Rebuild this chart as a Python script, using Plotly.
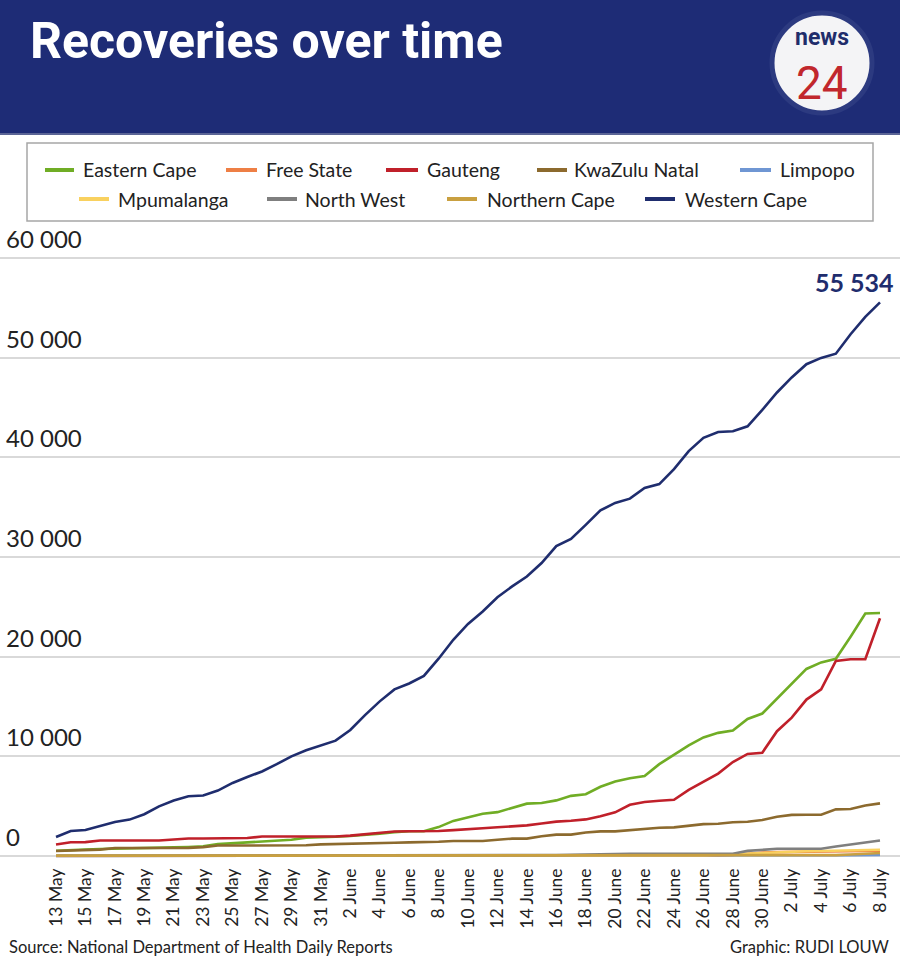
import plotly.graph_objects as go
import pandas as pd

# ---------------- data ----------------
dates = pd.date_range("2020-05-13", "2020-07-08", freq="D")

eastern_cape = [520, 620, 650, 700, 720, 750, 780, 790, 860, 900, 970, 1190, 1270, 1340, 1450, 1550, 1630,
                1840, 1870, 1930, 2010, 2100, 2240, 2390, 2480, 2480, 2900, 3520, 3870, 4240, 4400, 4830,
                5250, 5310, 5580, 6030, 6190, 6940, 7470, 7800, 8030, 9210, 10180, 11090, 11890, 12350,
                12590, 13750, 14290, 15760, 17220, 18760, 19420, 19780, 22000, 24330, 24370]
free_state = [10] * 16 + [20] * 15 + [40] * 14 + [60, 100, 230, 350, 390, 420, 440, 450, 460, 480, 500, 520]
gauteng = [1150, 1380, 1390, 1550, 1550, 1550, 1550, 1560, 1660, 1750, 1750, 1750, 1750, 1800, 1950, 1950,
           1950, 1950, 1950, 1960, 2040, 2190, 2320, 2450, 2480, 2480, 2510, 2600, 2720, 2790, 2880, 2960,
           3070, 3260, 3450, 3530, 3670, 3980, 4380, 5140, 5410, 5540, 5640, 6630, 7410, 8270, 9420,
           10240, 10360, 12520, 13880, 15690, 16710, 19570, 19730, 19730, 23840]
kwazulu_natal = [500, 560, 620, 640, 800, 800, 800, 800, 800, 810, 890, 1050, 1050, 1050, 1050, 1050, 1050,
                 1080, 1170, 1200, 1200, 1200, 1240, 1330, 1370, 1370, 1430, 1500, 1500, 1500, 1630, 1740,
                 1740, 1980, 2140, 2140, 2350, 2470, 2470, 2590, 2690, 2830, 2870, 3020, 3200, 3240, 3380,
                 3440, 3610, 3930, 4120, 4140, 4140, 4680, 4710, 5070, 5280]
limpopo = [10] * 30 + [30] * 20 + [50, 60, 70, 80, 90, 100, 110]
mpumalanga = [40] * 10 + [60] * 16 + [80] * 19 + [120, 180, 260, 330, 400, 450, 480, 500, 530, 560, 590, 620]
north_west = [30] * 21 + [50] + [90] * 13 + [110, 150, 190, 220] + [230] * 8 + \
             [510, 610, 720, 730, 730, 730, 950, 1190, 1360, 1560]
northern_cape = [20] * 50 + [30, 40, 60, 90, 150, 220, 300]
western_cape = [1900, 2500, 2610, 3020, 3410, 3650, 4190, 4980, 5570, 6000, 6070, 6560, 7330, 7920, 8480,
                9210, 9990, 10600, 11060, 11570, 12640, 14130, 15510, 16710, 17300, 18060, 19790, 21690,
                23280, 24530, 25950, 27040, 28030, 29380, 31090, 31800, 33210, 34660, 35410, 35840, 36910,
                37300, 38800, 40610, 41940, 42520, 42600, 43100, 44740, 46490, 48000, 49330, 49960, 50380,
                52330, 54070, 55534]

series_names = ["Eastern Cape", "Free State", "Gauteng", "KwaZulu Natal", "Limpopo",
                "Mpumalanga", "North West", "Northern Cape", "Western Cape"]
series_values = [eastern_cape, free_state, gauteng, kwazulu_natal, limpopo,
                 mpumalanga, north_west, northern_cape, western_cape]
series_colors = ["#70ad25", "#ee7f45", "#c0202a", "#8c6a2e", "#6f96d3",
                 "#f9d15f", "#7f7f7f", "#c9a040", "#1f2d6e"]

tick_labels = ["13 May", "15 May", "17 May", "19 May", "21 May", "23 May", "25 May", "27 May", "29 May",
               "31 May", "2 June", "4 June", "6 June", "8 June", "10 June", "12 June", "14 June", "16 June",
               "18 June", "20 June", "22 June", "24 June", "26 June", "28 June", "30 June", "2 July",
               "4 July", "6 July", "8 July"]
y_ticks = [0, 10000, 20000, 30000, 40000, 50000, 60000]
y_tick_labels = ["0", "10 000", "20 000", "30 000", "40 000", "50 000", "60 000"]

# ---------------- layout geometry ----------------
W, H = 900, 963
MT, MB = 233, 104
PH = H - MT - MB
NAVY = "#1e2c76"
FONT = "Lato, 'Open Sans', sans-serif"
HEAD = "Roboto, 'Liberation Sans', sans-serif"


def fx(px):
    return px / W


def fy(py):
    return (H - MB - py) / PH


fig = go.Figure()
for name, vals, col in zip(series_names, series_values, series_colors):
    fig.add_trace(go.Scatter(x=dates, y=vals, name=name, mode="lines",
                             line=dict(color=col, width=2.6), showlegend=False))

shapes = []
annotations = []

# header band
shapes.append(dict(type="rect", xref="paper", yref="paper", x0=0, x1=1, y0=fy(133), y1=fy(0),
                   fillcolor=NAVY, line=dict(width=0), layer="above"))
shapes.append(dict(type="rect", xref="paper", yref="paper", x0=0, x1=1, y0=fy(135), y1=fy(133),
                   fillcolor="#5b6596", line=dict(width=0), layer="above"))
annotations.append(dict(text="<b>Recoveries over time</b>", xref="paper", yref="paper", x=fx(28), y=fy(41),
                        xanchor="left", yanchor="middle", showarrow=False,
                        font=dict(family=HEAD, size=50, color="white")))
# logo
shapes.append(dict(type="circle", xref="paper", yref="paper", x0=fx(772), x1=fx(872), y0=fy(113), y1=fy(13),
                   fillcolor="#f4f4f6", line=dict(color="#2c3a80", width=5), layer="above"))
annotations.append(dict(text="<b>news</b>", xref="paper", yref="paper", x=fx(822), y=fy(53),
                        xanchor="center", yanchor="bottom", showarrow=False,
                        font=dict(family=HEAD, size=23, color="#1f2d6b")))
annotations.append(dict(text="24", xref="paper", yref="paper", x=fx(822), y=fy(54),
                        xanchor="center", yanchor="top", showarrow=False,
                        font=dict(family=HEAD, size=46, color="#c1272d")))

# legend box
shapes.append(dict(type="rect", xref="paper", yref="paper", x0=fx(27), x1=fx(873), y0=fy(221), y1=fy(143),
                   fillcolor="white", line=dict(color="#a6a6a6", width=1.5), layer="above"))
legend_pos = [(45, 74, 81, 170), (226, 257, 264, 170), (386, 418, 425, 170), (537, 567, 572, 170),
              (740, 771, 778, 170), (79, 109, 116, 199), (267, 297, 303, 199), (447, 477, 485, 199),
              (645, 675, 683, 199)]
for name, col, (lx0, lx1, tx, ly) in zip(series_names, series_colors, legend_pos):
    shapes.append(dict(type="line", xref="paper", yref="paper", x0=fx(lx0), x1=fx(lx1), y0=fy(ly), y1=fy(ly),
                       line=dict(color=col, width=4), layer="above"))
    annotations.append(dict(text=name, xref="paper", yref="paper", x=fx(tx), y=fy(ly),
                            xanchor="left", yanchor="middle", showarrow=False,
                            font=dict(family=FONT, size=19.5, color="#222222")))

# y-axis labels sitting above their gridlines, at the left edge
for v, lab in zip(y_ticks, y_tick_labels):
    annotations.append(dict(text=lab, xref="paper", yref="y", x=fx(4), y=v,
                            xanchor="left", yanchor="bottom", yshift=3, showarrow=False,
                            font=dict(family=FONT, size=24, color="#222222")))

# final value label
annotations.append(dict(text="<b>" + f"{western_cape[-1]:,}".replace(",", " ") + "</b>",
                        x=dates[-1], y=western_cape[-1], xref="x", yref="y",
                        xanchor="right", yanchor="bottom", xshift=16, yshift=3, showarrow=False,
                        font=dict(family=FONT, size=25, color="#1f2d6e")))

# footer
annotations.append(dict(text="Source: National Department of Health Daily Reports", xref="paper", yref="paper",
                        x=fx(7), y=fy(947), xanchor="left", yanchor="middle", showarrow=False,
                        font=dict(family=FONT, size=16.5, color="#222222")))
annotations.append(dict(text="Graphic: RUDI LOUW", xref="paper", yref="paper",
                        x=fx(891), y=fy(947), xanchor="right", yanchor="middle", showarrow=False,
                        font=dict(family=FONT, size=16.5, color="#222222")))

fig.update_layout(
    width=W, height=H,
    margin=dict(l=0, r=0, t=MT, b=MB),
    paper_bgcolor="white", plot_bgcolor="white",
    shapes=shapes, annotations=annotations,
    font=dict(family=FONT, color="#222222"),
    xaxis=dict(type="date", range=["2020-05-09 04:39", "2020-07-09 08:37"],
               tickvals=dates[::2], ticktext=tick_labels, tickangle=-90,
               tickfont=dict(family=FONT, size=17.5, color="#222222"), ticklabelstandoff=5,
               showgrid=False, zeroline=False, showline=False, ticks=""),
    yaxis=dict(range=[-301, 62487], tickvals=y_ticks, showticklabels=False,
               showgrid=True, gridcolor="#d9d9d9", gridwidth=2, zeroline=False, showline=False, ticks=""),
)

fig.write_html("out.html", config={"displayModeBar": False},
               post_script="document.body.style.margin='0';document.body.style.overflow='hidden';")
